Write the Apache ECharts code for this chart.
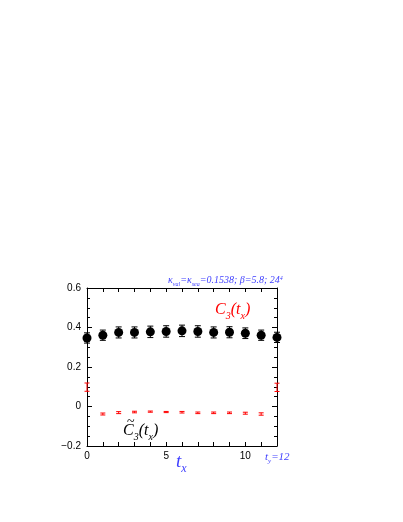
<!DOCTYPE html>
<html>
<head>
<meta charset="utf-8">
<script src="https://cdn.jsdelivr.net/npm/echarts@6/dist/echarts.min.js"></script>
<style>
html, body { margin: 0; padding: 0; background: #fff; }
#main { width: 403px; height: 522px; }
</style>
</head>
<body>
<div id="main"></div>
<script>
// data
var tx = [0, 1, 2, 3, 4, 5, 6, 7, 8, 9, 10, 11, 12];
var c3 = [0.347, 0.361, 0.375, 0.375, 0.378, 0.380, 0.383, 0.380, 0.375, 0.376, 0.371, 0.361, 0.350];
var c3Err = [0.026, 0.026, 0.028, 0.028, 0.029, 0.029, 0.029, 0.029, 0.028, 0.028, 0.027, 0.026, 0.026];
var c3t = [0.098, -0.038, -0.031, -0.028, -0.026, -0.028, -0.029, -0.032, -0.032, -0.032, -0.034, -0.038, 0.097];
var c3tErr = [0.021, 0.005, 0.005, 0.004, 0.003, 0.003, 0.004, 0.004, 0.004, 0.004, 0.005, 0.006, 0.021];
var yTicks = [-0.2, 0, 0.2, 0.4, 0.6];
var xTickLabels = [0, 5, 10];

var myChart = echarts.init(document.getElementById('main'));

var blackPts = [], blackErr = [], redErr = [];
for (var i = 0; i < tx.length; i++) {
    blackPts.push([tx[i], c3[i]]);
    blackErr.push([tx[i], c3[i], c3Err[i]]);
    redErr.push([tx[i], c3t[i], c3tErr[i]]);
}

function errBar(color, cap) {
    return function (params, api) {
        var x = api.value(0), y = api.value(1), e = api.value(2);
        var hi = api.coord([x, y + e]);
        var lo = api.coord([x, y - e]);
        var st = { stroke: color, lineWidth: 1 };
        return {
            type: 'group',
            children: [
                { type: 'line', shape: { x1: hi[0], y1: hi[1], x2: lo[0], y2: lo[1] }, style: st },
                { type: 'line', shape: { x1: hi[0] - cap, y1: hi[1], x2: hi[0] + cap, y2: hi[1] }, style: st },
                { type: 'line', shape: { x1: lo[0] - cap, y1: lo[1], x2: lo[0] + cap, y2: lo[1] }, style: st }
            ]
        };
    };
}

// lay out text pieces with sub/superscripts
var ctx = document.createElement('canvas').getContext('2d');
function label(parts, x, y, color) {
    var out = [];
    var cx = x;
    parts.forEach(function (p) {
        var font = (p[3] || 'italic') + ' ' + p[1] + 'px "Liberation Serif"';
        ctx.font = font;
        out.push({
            type: 'text',
            x: cx, y: y + (p[2] || 0),
            style: { text: p[0], font: font, fill: color, verticalAlign: 'bottom' },
            z: 100
        });
        cx += ctx.measureText(p[0]).width;
    });
    return out;
}

var blue = '#3f3fff';
var graphics = []
    .concat(label([['C', 16], ['3', 10, 3], ['(', 16], ['t', 16], ['x', 10, 3], [')', 16]], 215, 318, '#ff0000'))
    .concat(label([['C', 16], ['3', 10, 3], ['(', 16], ['t', 16], ['x', 10, 3], [')', 16]], 123, 439, '#000'))
    .concat(label([['~', 14, 0, 'normal']], 127, 429, '#000'))
    .concat(label([['κ', 10], ['val', 6, 2], ['=κ', 10], ['sea', 6, 2], ['=0.1538; β=5.8; 24', 10], ['4', 6, -4]], 168, 285, blue))
    .concat(label([['t', 11], ['y', 7, 2], ['=12', 11]], 265, 463, blue))
    .concat(label([['t', 19], ['x', 12, 4]], 176, 471, blue));

var axisLine = { show: true, onZero: false, lineStyle: { color: '#000', width: 1 } };

option = {
    animation: false,
    grid: { left: 87, right: 126, top: 288, bottom: 76, containLabel: false },
    xAxis: [{
        type: 'value', min: 0, max: 12, interval: 1,
        axisLine: axisLine,
        axisTick: { inside: true, length: 4, lineStyle: { color: '#000' } },
        axisLabel: {
            color: '#000', fontSize: 10, fontFamily: 'Liberation Sans', margin: 5,
            formatter: function (v) { return xTickLabels.indexOf(v) >= 0 ? String(v) : ''; }
        },
        splitLine: { show: false }
    }, {
        type: 'value', min: 0, max: 12, interval: 1, position: 'top',
        axisLine: axisLine,
        axisTick: { inside: true, length: 4, lineStyle: { color: '#000' } },
        axisLabel: { show: false },
        splitLine: { show: false }
    }],
    yAxis: [{
        type: 'value', min: -0.2, max: 0.6, interval: 0.2,
        axisLine: axisLine,
        axisTick: { inside: true, length: 5, lineStyle: { color: '#000' } },
        minorTick: { show: true, splitNumber: 4, length: 3, lineStyle: { color: '#000' } },
        axisLabel: {
            color: '#000', fontSize: 10, fontFamily: 'Liberation Sans', margin: 6,
            formatter: function (v) {
                var r = Math.round(v * 10) / 10;
                if (r === 0) return '0';
                return (r < 0 ? '\u2212' : '') + Math.abs(r).toFixed(1);
            }
        },
        splitLine: { show: false }
    }, {
        type: 'value', min: -0.2, max: 0.6, interval: 0.2, position: 'right',
        axisLine: axisLine,
        axisTick: { inside: true, length: 5, lineStyle: { color: '#000' } },
        minorTick: { show: true, splitNumber: 4, length: 3, lineStyle: { color: '#000' } },
        axisLabel: { show: false },
        splitLine: { show: false }
    }],
    series: [
        {
            type: 'custom', renderItem: errBar('#000', 3), data: blackErr,
            encode: { x: 0, y: 1 }, z: 2
        },
        {
            type: 'scatter', data: blackPts, symbol: 'circle', symbolSize: 9,
            itemStyle: { color: '#000', opacity: 1 }, z: 3
        },
        {
            type: 'custom', renderItem: errBar('#ff0000', 2.5), data: redErr,
            encode: { x: 0, y: 1 }, z: 2
        }
    ],
    graphic: graphics
};

myChart.setOption(option);
</script>
</body>
</html>
